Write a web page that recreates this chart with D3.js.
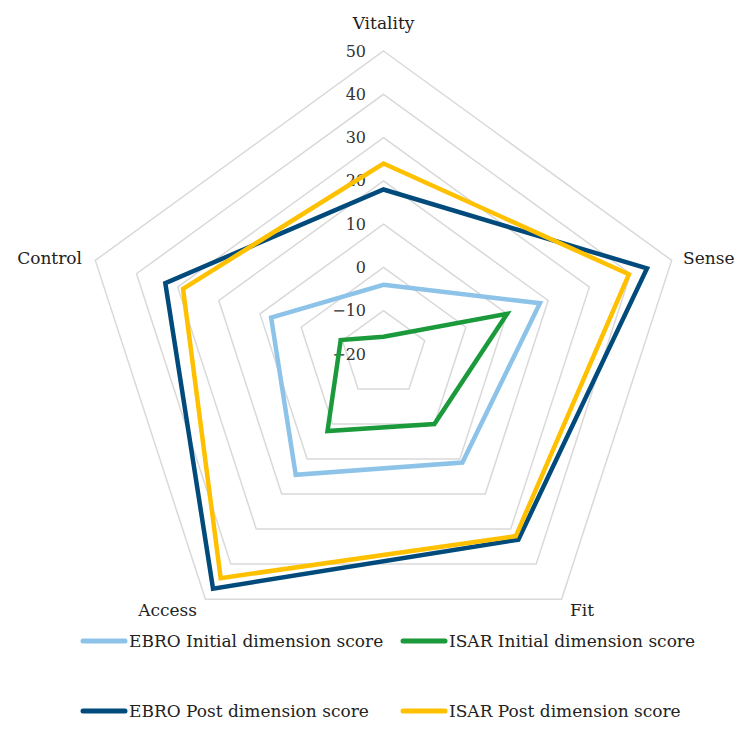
<!DOCTYPE html>
<html>
<head>
<meta charset="utf-8">
<script src="https://cdn.jsdelivr.net/npm/d3@7"></script>
<style>
  html, body { margin: 0; padding: 0; background: #fff; }
  svg { display: block; font-family: "DejaVu Serif", "Liberation Serif", serif; }
</style>
</head>
<body>
<svg id="chart" width="734" height="740"></svg>
<script>
// Dimensions of the radar, clockwise from the top
const dimensions = ["Vitality", "Sense", "Fit", "Access", "Control"];

// Dimension scores per series
const ebroInitial = [-4, 18, 11, 14.5, 7.3];
const isarInitial = [-16, 10, 0, 2, -9.6];
const ebroPost = [18, 44, 33, 47, 33];
const isarPost = [24, 39.6, 32, 44, 28.7];

const seriesNames = [
  "EBRO Initial dimension score",
  "ISAR Initial dimension score",
  "EBRO Post dimension score",
  "ISAR Post dimension score"
];
const seriesColors = ["#8dc3e8", "#1b9a3b", "#004b7c", "#ffc000"];

// Radial axis ticks
const tickValues = [-20, -10, 0, 10, 20, 30, 40, 50];

const svg = d3.select("#chart");
const cx = 383.5, cy = 354, R = 303;

const r = d3.scaleLinear().domain([-20, 50]).range([0, R]);
const angle = d3.scalePoint().domain(dimensions).range([0, 2 * Math.PI * 4 / 5]);

function pt(dim, v) {
  const a = angle(dim);
  const rad = r(v);
  return [cx + rad * Math.sin(a), cy - rad * Math.cos(a)];
}

const lineGen = d3.line().curve(d3.curveLinearClosed);

// Grid rings
const grid = svg.append("g");
grid.selectAll("path.ring")
  .data(tickValues.slice(1))
  .join("path")
  .attr("class", "ring")
  .attr("d", v => lineGen(dimensions.map(d => pt(d, v))))
  .attr("fill", "none")
  .attr("stroke", "#d9d9d9")
  .attr("stroke-width", 1.5);

// Tick labels along the Vitality axis
svg.append("g").selectAll("text")
  .data(tickValues)
  .join("text")
  .attr("x", 366)
  .attr("y", v => pt("Vitality", v)[1])
  .attr("dy", "0.35em")
  .attr("text-anchor", "end")
  .attr("font-size", 16)
  .attr("fill", "#333")
  .text(v => v < 0 ? "\u2212" + Math.abs(v) : String(v));

// Dimension labels
const labelPos = {
  Vitality: { x: 383.5, y: 29, anchor: "middle" },
  Sense: { x: 683, y: 264, anchor: "start" },
  Fit: { x: 570, y: 616, anchor: "start" },
  Access: { x: 197, y: 616, anchor: "end" },
  Control: { x: 82, y: 264, anchor: "end" }
};
svg.append("g").selectAll("text")
  .data(dimensions)
  .join("text")
  .attr("x", d => labelPos[d].x)
  .attr("y", d => labelPos[d].y)
  .attr("text-anchor", d => labelPos[d].anchor)
  .attr("font-size", 17)
  .attr("fill", "#222")
  .text(d => d);

// Series polygons
const allSeries = [ebroInitial, isarInitial, ebroPost, isarPost];
svg.append("g").selectAll("path")
  .data(allSeries)
  .join("path")
  .attr("d", vals => lineGen(dimensions.map((d, i) => pt(d, vals[i]))))
  .attr("fill", "none")
  .attr("stroke", (d, i) => seriesColors[i])
  .attr("stroke-width", 4.5)
  .attr("stroke-linejoin", "miter");

// Legend
const legendPos = [
  { x: 81, y: 641 }, { x: 401, y: 641 },
  { x: 81, y: 711 }, { x: 401, y: 711 }
];
const legend = svg.append("g").selectAll("g")
  .data(seriesNames)
  .join("g")
  .attr("transform", (d, i) => `translate(${legendPos[i].x},${legendPos[i].y})`);
legend.append("line")
  .attr("x1", 2).attr("x2", 44)
  .attr("y1", 0).attr("y2", 0)
  .attr("stroke", (d, i) => seriesColors[i])
  .attr("stroke-width", 5)
  .attr("stroke-linecap", "round");
legend.append("text")
  .attr("x", 48)
  .attr("y", 0)
  .attr("dy", "0.35em")
  .attr("font-size", 17)
  .attr("fill", "#222")
  .text(d => d);
</script>
</body>
</html>
